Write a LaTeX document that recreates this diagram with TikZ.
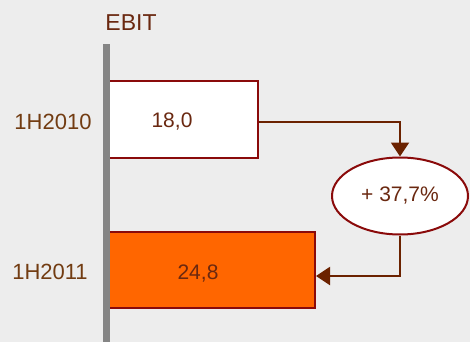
\documentclass[tikz,border=0pt]{standalone}
\usepackage{fontspec}
\setmainfont{Liberation Sans}
\usetikzlibrary{shapes.geometric,arrows.meta}
\definecolor{bgc}{HTML}{EDEDED}
\definecolor{bargray}{HTML}{858585}
\definecolor{boxred}{HTML}{8A0A0A}
\definecolor{arrowc}{HTML}{6B2200}
\definecolor{txtc}{HTML}{6A2810}
\definecolor{lblc}{HTML}{723C12}
\definecolor{orangefill}{HTML}{FF6600}
\tikzset{
  databox/.style={draw=boxred, line width=2pt, inner sep=0pt, rectangle},
  pctell/.style={ellipse, draw=boxred, line width=2pt, fill=white, inner sep=0pt, minimum width=136pt, minimum height=77pt, text=txtc, font=\fontsize{21}{25}\selectfont},
  valtxt/.style={text=txtc, font=\fontsize{21}{25}\selectfont, inner sep=0pt},
  yeartxt/.style={text=lblc, font=\fontsize{22}{26}\selectfont, inner sep=0pt},
  flow/.style={draw=arrowc, line width=2pt, -{Triangle[length=14pt,width=18pt]}}
}
\begin{document}
\begin{tikzpicture}[x=1pt,y=-1pt]
\fill[bgc] (0,0) rectangle (470,342);
\useasboundingbox (0,0) rectangle (470,342);
\node[databox, fill=white, minimum width=150pt, minimum height=77pt] (b1) at (183,119.5) {};
\node[databox, fill=orangefill, minimum width=207pt, minimum height=76pt] (b2) at (211.5,270) {};
\fill[bargray] (103,44) rectangle (110,342);
\node[valtxt] (v1) at (172,122) {18,0};
\node[valtxt] (v2) at (198,274) {24,8};
\node[text=txtc, font=\fontsize{23}{27}\selectfont, inner sep=0pt] (ebit) at (131,23) {EBIT};
\node[yeartxt] (y1) at (53,122) {1H2010};
\node[yeartxt] (y2) at (50,272) {1H2011};
\node[pctell] (ell) at (400,196) {+ 37,7\%};
\draw[flow] ([yshift=-2.5pt]b1.east) -| (ell.north);
\draw[flow] (ell.south) |- ([yshift=-6pt]b2.east);
\end{tikzpicture}
\end{document}
